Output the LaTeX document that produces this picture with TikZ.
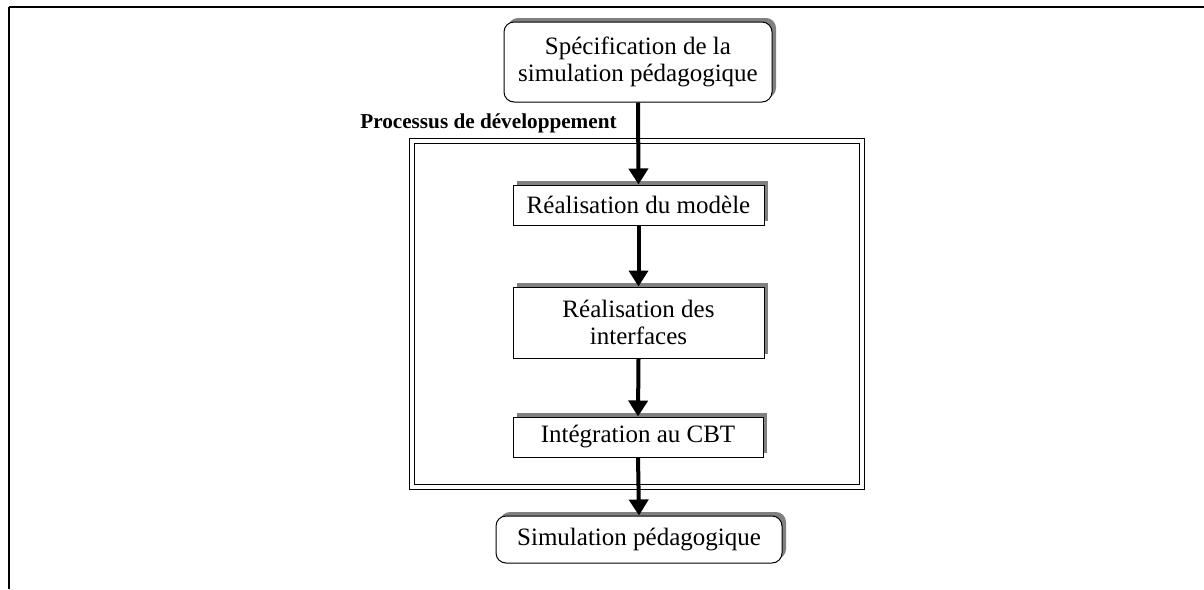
\documentclass[tikz,border=0pt]{standalone}
\usepackage{fontspec}
\setmainfont{Liberation Serif}
\usetikzlibrary{arrows.meta,shadows}
\begin{document}
\begin{tikzpicture}[x=0.5pt,y=-0.5pt,
  txt/.style={font=\fontsize{12.5}{13.5}\selectfont, align=center, inner sep=0pt},
  shad/.style={drop shadow={shadow xshift=2pt, shadow yshift=2pt, fill=black!50, opacity=1}},
  stepbox/.style={txt, draw=black, line width=0.5pt, fill=white, shad},
  roundbox/.style={stepbox, rounded corners=5pt},
  flow/.style={line width=2pt, -{Triangle[length=8pt,width=9.5pt]}}]
\useasboundingbox (0,0) rectangle (1204,589);
% page border fragments
\draw[line width=1pt] (9,7) -- (1204,7);
\draw[line width=1pt] (9,6.5) -- (9,589);
% frame
\draw[line width=0.5pt, double, double distance=1.6pt] (412,141) rectangle (862,487);
\node[font=\fontsize{10.6}{12}\selectfont\bfseries, inner sep=0pt] (lbl) at (488.5,123) {Processus de développement};
% boxes
\node[roundbox, minimum width=134pt, minimum height=40pt] (spec) at (638,62) {Spécification de la\\simulation pédagogique};
\node[stepbox, minimum width=125.5pt, minimum height=20pt] (model) at (638.5,205) {Réalisation du modèle};
\node[stepbox, minimum width=125.5pt, minimum height=35.5pt] (interf) at (638.5,322.5) {Réalisation des\\interfaces};
\node[stepbox, minimum width=125pt, minimum height=20pt] (integ) at (638,437) {Intégration au CBT};
\node[roundbox, minimum width=143pt, minimum height=23.5pt] (simul) at (639,539.5) {Simulation pédagogique};
% connectors
\draw[flow] (spec.south) -- (model.north);
\draw[flow] (model.south) -- (interf.north);
\draw[flow] (interf.south) -- (integ.north);
\draw[flow] (integ.south) -- (simul.north);
\end{tikzpicture}
\end{document}
